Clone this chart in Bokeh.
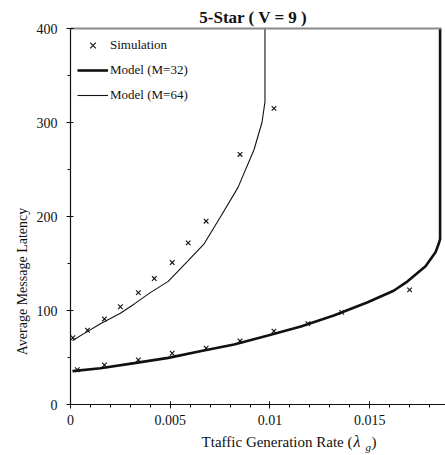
import math
from bokeh.plotting import figure
from bokeh.models import Range1d, FixedTicker, Legend, LegendItem, Label, LinearAxis
from bokeh.embed import file_html
from bokeh.resources import INLINE

# ---------------- data ----------------
sim32_x = [0.00034, 0.0017, 0.0034, 0.0051, 0.0068, 0.0085, 0.0102, 0.0119, 0.0136, 0.0170]
sim32_y = [37, 42, 47.5, 54.5, 60, 67.5, 78, 86, 98, 122]

sim64_x = [0.00012, 0.00085, 0.0017, 0.0025, 0.0034, 0.0042, 0.0051, 0.0059, 0.0068, 0.0085, 0.0102]
sim64_y = [71, 79, 91, 104, 119, 134, 151, 172, 195, 266, 315]

model32_x = [0.0001, 0.0015, 0.0032, 0.0049, 0.0065, 0.0082, 0.0099, 0.01155, 0.0132,
             0.0149, 0.0162, 0.0169, 0.0178, 0.0183, 0.01846, 0.01853, 0.01853]
model32_y = [35.5, 38.6, 44, 49.6, 56.7, 63.8, 73.4, 83, 94.7,
             108.8, 121, 131, 147, 162, 171, 176, 400]

model64_x = [0.0001, 0.0008, 0.0015, 0.0025, 0.0032, 0.004, 0.0049, 0.0059, 0.0067,
             0.0075, 0.0084, 0.0092, 0.0096, 0.00975, 0.00975]
model64_y = [68, 77, 86, 97, 107, 119, 131, 153, 171,
             199, 231, 271, 300, 322, 400]

x_ticks = [0, 0.005, 0.01, 0.015]
x_tick_labels = ["0", "0.005", "0.01", "0.015"]
y_ticks = [0, 100, 200, 300, 400]
y_tick_labels = ["0", "100", "200", "300", "400"]

title_text = "5-Star ( V = 9 )"
ylabel_text = "Average Message Latency"
xlabel_text = "Ttaffic Generation Rate ("
legend_labels = ["Simulation", "Model (M=32)", "Model (M=64)"]

# ---------------- layout ----------------
FIG_W, FIG_H = 445, 455
XA, XB = 0.0, 0.0186          # axis extent (data)
YA, YB = 0.0, 400.0
PX_L, PX_R = 70, 441          # pixel position of axis extent
PY_B, PY_T = 404, 28
kx = (XB - XA) / (PX_R - PX_L)
ky = (YB - YA) / (PY_B - PY_T)
x_start, x_end = XA - PX_L * kx, XB + (FIG_W - PX_R) * kx
y_start, y_end = YA - (FIG_H - PY_B) * ky, YB + PY_T * ky

def dx(px):
    return x_start + px * kx

def dy(py):
    return y_end - py * ky

FONT = "Liberation Serif"
INK = "#111111"

p = figure(width=FIG_W, height=FIG_H, output_backend="svg", toolbar_location=None,
           title=None, x_range=Range1d(x_start, x_end), y_range=Range1d(y_start, y_end),
           min_border=0, min_border_left=0, min_border_right=0,
           min_border_top=0, min_border_bottom=0)
p.outline_line_color = None
p.grid.visible = False
p.background_fill_color = "white"
p.border_fill_color = "white"

# axes
p.xaxis.ticker = FixedTicker(ticks=x_ticks, minor_ticks=[i * 0.001 for i in range(19)])
p.xaxis.major_label_overrides = dict(zip(x_ticks, x_tick_labels))
p.yaxis.ticker = FixedTicker(ticks=y_ticks, minor_ticks=[50, 150, 250, 350])
p.yaxis.major_label_overrides = dict(zip(y_ticks, y_tick_labels))
p.xaxis.fixed_location = YA
p.yaxis.fixed_location = XA
p.xaxis.bounds = (XA, x_end)
p.yaxis.bounds = (YA, YB)
for ax in (p.xaxis, p.yaxis):
    ax.axis_line_color = INK
    ax.axis_line_width = 1.2
    ax.major_tick_line_color = INK
    ax.minor_tick_line_color = INK
    ax.major_tick_in = 3
    ax.major_tick_out = 4
    ax.minor_tick_in = 0
    ax.minor_tick_out = 3
    ax.major_label_text_font = FONT
    ax.major_label_text_font_size = "14px"
    ax.major_label_text_color = INK
p.xaxis.major_label_standoff = 6
p.yaxis.major_label_standoff = 9

# grey top frame line
top = LinearAxis(fixed_location=YB, bounds=(XA, XB), ticker=FixedTicker(ticks=[]),
                 major_label_text_font_size="0px", axis_line_color="#8a8a8a",
                 axis_line_width=2, major_tick_line_color=None, minor_tick_line_color=None)
p.add_layout(top, "above")

# data
r_m64 = p.line(model64_x, model64_y, line_color=INK, line_width=1.1)
r_m32 = p.line(model32_x, model32_y, line_color=INK, line_width=2.6)
r_s32 = p.scatter(sim32_x, sim32_y, marker="x", size=6.5, line_color=INK, line_width=1.1)
r_s64 = p.scatter(sim64_x, sim64_y, marker="x", size=6.5, line_color=INK, line_width=1.1)

legend = Legend(items=[LegendItem(label=legend_labels[0], renderers=[r_s32]),
                       LegendItem(label=legend_labels[1], renderers=[r_m32]),
                       LegendItem(label=legend_labels[2], renderers=[r_m64])],
                location=(PX_L + 7, FIG_H - (PY_T + 84) + 7), margin=0, padding=7, spacing=5,
                glyph_width=31, glyph_height=20, label_height=20, label_standoff=2,
                label_text_font=FONT, label_text_font_size="13px", label_text_color=INK,
                border_line_color=None, background_fill_alpha=0)
p.add_layout(legend)

def lab(px, py, text, size, style="normal", align="left", angle=0.0):
    p.add_layout(Label(x=dx(px), y=dy(py), text=text, text_font=FONT,
                       text_font_size=size, text_font_style=style, text_color=INK,
                       text_align=align, text_baseline="middle", angle=angle))

# title
lab(253, 17, title_text, "17px", style="bold", align="center")
# y label
lab(22, 281, ylabel_text, "14px", align="center", angle=math.pi / 2)
# x label pieces
lab(352, 441, xlabel_text, "15px", align="right")
lab(353, 441, "λ", "16px", style="italic")
lab(365, 446, "g", "11px", style="italic")
lab(371, 441, ")", "15px")

open("out.html", "w").write(file_html(p, INLINE))
